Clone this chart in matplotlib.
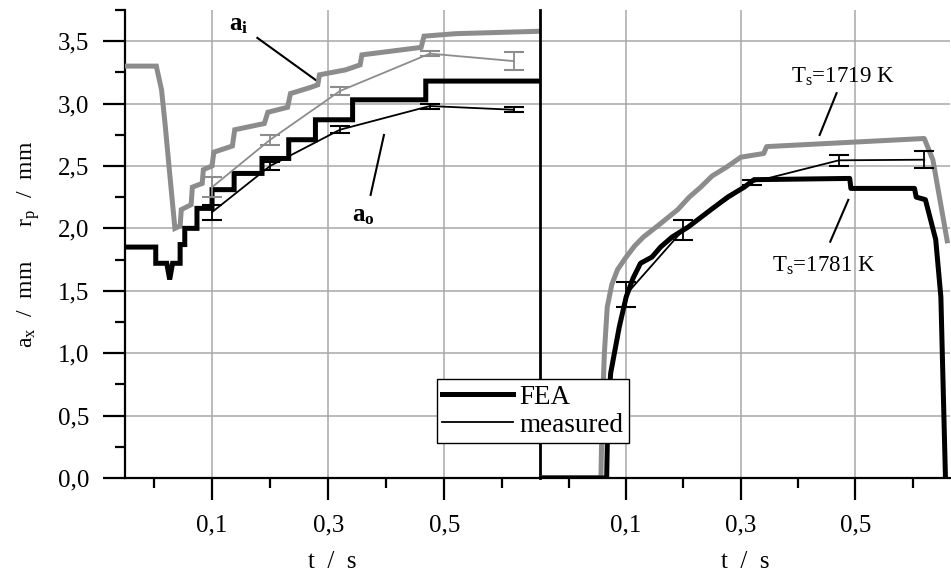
import numpy as np
import matplotlib
matplotlib.use("Agg")
import matplotlib.pyplot as plt
from matplotlib.ticker import FuncFormatter, MultipleLocator, FixedLocator

plt.rcParams['font.family'] = ['Liberation Serif', 'DejaVu Serif']
plt.rcParams['mathtext.fontset'] = 'custom'
plt.rcParams['mathtext.rm'] = 'Liberation Serif'
plt.rcParams['mathtext.it'] = 'Liberation Serif:italic'
plt.rcParams['mathtext.bf'] = 'Liberation Serif:bold'

# ---- left panel: a_i / a_o ----
ai_fea_t = [-0.05, 0.004, 0.013, 0.019, 0.027, 0.036, 0.045, 0.047, 0.064, 0.066, 0.083, 0.085,
            0.1, 0.103, 0.135, 0.139, 0.19, 0.196, 0.23, 0.235, 0.27, 0.282, 0.285, 0.33,
            0.355, 0.358, 0.46, 0.465, 0.52, 0.67]
ai_fea_y = [3.30, 3.30, 3.11, 2.84, 2.44, 2.00, 2.02, 2.15, 2.19, 2.33, 2.36, 2.47,
            2.50, 2.61, 2.66, 2.79, 2.84, 2.93, 2.97, 3.08, 3.13, 3.15, 3.23, 3.27,
            3.31, 3.39, 3.45, 3.54, 3.56, 3.58]

ao_fea_t = [-0.05, 0.003, 0.003, 0.022, 0.027, 0.032, 0.045, 0.045, 0.053, 0.053, 0.074, 0.074,
            0.1, 0.1, 0.138, 0.138, 0.186, 0.186, 0.232, 0.232, 0.278, 0.278, 0.342, 0.342,
            0.468, 0.468, 0.67]
ao_fea_y = [1.85, 1.85, 1.72, 1.72, 1.59, 1.72, 1.72, 1.87, 1.87, 2.00, 2.00, 2.16,
            2.16, 2.31, 2.31, 2.44, 2.44, 2.56, 2.56, 2.71, 2.71, 2.87, 2.87, 3.03,
            3.03, 3.18, 3.18]

meas_t = [0.1, 0.2, 0.32, 0.475, 0.62]
ai_meas = [2.33, 2.71, 3.10, 3.40, 3.34]
ai_err = [0.08, 0.04, 0.03, 0.02, 0.07]
ao_meas = [2.13, 2.50, 2.79, 2.98, 2.95]
ao_err = [0.06, 0.035, 0.03, 0.02, 0.02]

# ---- right panel: r_p ----
r1719_t = [-0.05, 0.056, 0.058, 0.062, 0.067, 0.075, 0.085, 0.1, 0.115, 0.13, 0.155, 0.19,
           0.21, 0.23, 0.25, 0.275, 0.3, 0.34, 0.345, 0.62, 0.635, 0.66]
r1719_y = [0.0, 0.0, 0.5, 1.0, 1.37, 1.55, 1.67, 1.77, 1.86, 1.93, 2.02, 2.15,
           2.25, 2.33, 2.42, 2.49, 2.57, 2.60, 2.655, 2.72, 2.55, 1.90]

r1781_t = [-0.05, 0.066, 0.068, 0.073, 0.088, 0.1, 0.112, 0.125, 0.145, 0.16, 0.18, 0.208,
           0.248, 0.277, 0.306, 0.323, 0.49, 0.492, 0.603, 0.606, 0.622, 0.64, 0.649, 0.657]
r1781_y = [0.0, 0.0, 0.5, 0.84, 1.21, 1.45, 1.60, 1.72, 1.77, 1.85, 1.93, 2.01,
           2.15, 2.25, 2.33, 2.39, 2.40, 2.32, 2.32, 2.25, 2.23, 1.91, 1.45, 0.0]

rp_meas_t = [0.1, 0.2, 0.32, 0.471, 0.62]
rp_meas = [1.47, 1.99, 2.37, 2.545, 2.55]
rp_err = [0.10, 0.08, 0.02, 0.045, 0.07]

GREY = '#8c8c8c'
GRID = '#a8a8a8'
FS = 18

fig = plt.figure(figsize=(9.51, 5.85), dpi=100)
axL = fig.add_axes([0.1314, 0.183, 0.4366, 0.80])
axR = fig.add_axes([0.568, 0.183, 0.431, 0.80], sharey=axL)

comma = FuncFormatter(lambda v, p: ('%.1f' % v).replace('.', ','))

for ax in (axL, axR):
    ax.set_xlim(-0.05, 0.665)
    ax.set_ylim(0, 3.75)
    ax.xaxis.set_major_locator(FixedLocator([0.1, 0.3, 0.5]))
    ax.xaxis.set_minor_locator(FixedLocator([0.0, 0.2, 0.4, 0.6]))
    ax.xaxis.set_major_formatter(comma)
    ax.grid(True, which='major', color=GRID, lw=1.1)
    ax.set_axisbelow(True)
    ax.spines['top'].set_visible(False)
    ax.spines['right'].set_visible(False)
    for s in ax.spines.values():
        s.set_linewidth(1.6)
    ax.tick_params(axis='x', which='major', direction='out', length=15.5, width=1.6,
                   labelsize=FS, pad=11)
    ax.tick_params(axis='x', which='minor', direction='out', length=7.5, width=1.6)
    ax.set_xlabel('t  /  s', fontsize=FS, labelpad=10)

axL.yaxis.set_major_locator(MultipleLocator(0.5))
axL.yaxis.set_minor_locator(MultipleLocator(0.25))
axL.yaxis.set_major_formatter(comma)
axL.tick_params(axis='y', which='major', direction='out', length=15.5, width=1.6,
                labelsize=FS, pad=10)
axL.tick_params(axis='y', which='minor', direction='out', length=7.5, width=1.6)
axR.tick_params(axis='y', which='both', left=False, labelleft=False)
axL.set_ylabel(r'a$_\mathrm{x}$  /  mm      r$_\mathrm{p}$  /  mm', fontsize=17, labelpad=12)

# left panel curves
axL.plot(ai_fea_t, ai_fea_y, color=GREY, lw=3.6, solid_joinstyle='miter', zorder=3)
axL.plot(ao_fea_t, ao_fea_y, color='black', lw=3.6, solid_joinstyle='miter', zorder=4)
axL.errorbar(meas_t, ai_meas, yerr=ai_err, color=GREY, lw=1.3, capsize=7.5,
             capthick=1.5, zorder=5)
axL.errorbar(meas_t, ao_meas, yerr=ao_err, color='black', lw=1.3, capsize=7.5,
             capthick=1.5, zorder=5)

axL.text(0.145, 3.63, r'$\mathbf{a_i}$', fontsize=18, ha='center', va='center')
axL.plot([0.178, 0.278], [3.526, 3.19], color='black', lw=1.5)
axL.text(0.361, 2.10, r'$\mathbf{a_o}$', fontsize=18, ha='center', va='center')
axL.plot([0.396, 0.373], [2.748, 2.268], color='black', lw=1.5)

# right panel curves
axR.plot(r1719_t, r1719_y, color=GREY, lw=3.6, zorder=3)
axR.plot(r1781_t, r1781_y, color='black', lw=3.6, zorder=4)
axR.errorbar(rp_meas_t, rp_meas, yerr=rp_err, color='black', lw=1.3, capsize=7.5,
             capthick=1.5, zorder=5)

axR.text(0.478, 3.21, r'T$_\mathrm{s}$=1719 K', fontsize=16.5, ha='center', va='center')
axR.plot([0.467, 0.4375], [3.083, 2.748], color='black', lw=1.5)
axR.text(0.445, 1.70, r'T$_\mathrm{s}$=1781 K', fontsize=16.5, ha='center', va='center')
axR.plot([0.4875, 0.456], [2.228, 1.893], color='black', lw=1.5)

axR.spines['left'].set_linewidth(2)

h1, = axL.plot([], [], color='black', lw=3.6)
h2, = axL.plot([], [], color='black', lw=1.3)
leg = fig.legend([h1, h2], ['FEA', 'measured'], loc='lower left',
                 bbox_to_anchor=(0.4595, 0.2427), fontsize=19.5, frameon=True,
                 fancybox=False, borderaxespad=0, borderpad=0.2, handlelength=2.6,
                 handletextpad=0.25, labelspacing=0.1, framealpha=1)
leg.get_frame().set_edgecolor('black')
leg.get_frame().set_linewidth(1.0)
leg.set_zorder(10)

fig.savefig('out.png', dpi=100)
